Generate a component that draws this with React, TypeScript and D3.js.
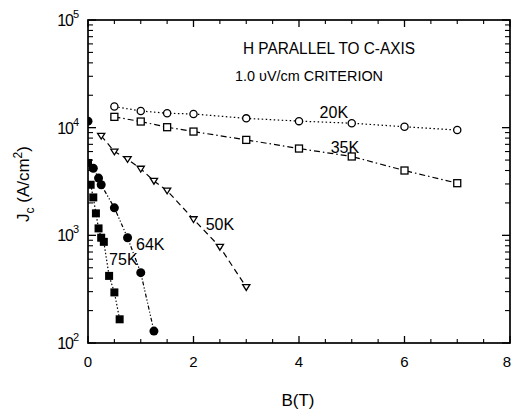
import React from 'react';
import * as d3 from 'd3';

// field values (T) and critical current density (A/cm^2)
const b20 = [0.5, 1, 1.5, 2, 3, 4, 5, 6, 7];
const jc20 = [15700, 14300, 13600, 13400, 12200, 11500, 11000, 10200, 9500];
const b35 = [0.5, 1, 1.5, 2, 3, 4, 5, 6, 7];
const jc35 = [12600, 11400, 10100, 9200, 7700, 6400, 5400, 4000, 3050];
const b50 = [0.25, 0.5, 0.75, 1, 1.25, 1.5, 2, 2.5, 3];
const jc50 = [8400, 6000, 5100, 4150, 3200, 2600, 1410, 780, 330];
const b64 = [0.1, 0.2, 0.25, 0.5, 0.75, 1, 1.25];
const jc64 = [4200, 3400, 2950, 1800, 950, 450, 129];
const b75 = [0.05, 0.1, 0.15, 0.2, 0.25, 0.3, 0.4, 0.5, 0.6];
const jc75 = [2950, 2250, 1600, 1160, 950, 870, 420, 295, 166];
// zero-field points sitting on the left axis (64K, 75K)
const zeroJc = [11500, 4700];

const xTicks = [0, 2, 4, 6, 8];
const yTicks = [2, 3, 4, 5];

const W = 511, H = 411;
const x = d3.scaleLinear().domain([0, 8]).range([88, 510]);
const y = d3.scaleLog().domain([100, 100000]).range([343, 20]);

const font = '"Liberation Sans", Arial, sans-serif';

type Marker = 'oc' | 'os' | 'ot' | 'fc' | 'fs';

const series = [
  { name: '20K', b: b20, jc: jc20, marker: 'oc' as Marker, dash: '1.5,2.5', lab: [4.66, 12300] },
  { name: '35K', b: b35, jc: jc35, marker: 'os' as Marker, dash: '6,3,1.5,3', lab: [4.87, 5820] },
  { name: '50K', b: b50, jc: jc50, marker: 'ot' as Marker, dash: '6,4', lab: [2.5, 1120] },
  { name: '64K', b: b64, jc: jc64, marker: 'fc' as Marker, dash: '4,2,1.2,2,1.2,2', lab: [1.18, 731] },
  { name: '75K', b: b75, jc: jc75, marker: 'fs' as Marker, dash: '1.5,2', lab: [0.67, 531] },
];

function Sym({ kind, cx, cy }: { kind: Marker; cx: number; cy: number }) {
  const st = { stroke: '#000', strokeWidth: 1.3 };
  if (kind === 'oc') return <circle cx={cx} cy={cy} r={3.6} fill="#fff" {...st} />;
  if (kind === 'fc') return <circle cx={cx} cy={cy} r={4.5} fill="#000" />;
  if (kind === 'os') return <rect x={cx - 3.5} y={cy - 3.5} width={7} height={7} fill="#fff" {...st} />;
  if (kind === 'fs') return <rect x={cx - 4} y={cy - 4} width={8} height={8} fill="#000" />;
  const s = 3.6;
  return <path d={`M${cx - s},${cy - s * 0.7}L${cx + s},${cy - s * 0.7}L${cx},${cy + s * 0.9}Z`} fill="#fff" {...st} />;
}

export default function App() {
  const line = d3.line<[number, number]>().x(d => x(d[0])).y(d => y(d[1]));
  const [x0, x1] = x.range();
  const [yb, yt] = y.range();

  const minorX = d3.range(0.5, 8, 0.5).filter(v => v % 2 !== 0);
  const minorY: number[] = [];
  [100, 1000, 10000].forEach(d => { for (let k = 2; k <= 9; k++) minorY.push(d * k); });

  return (
    <svg width={W} height={H} style={{ position: 'absolute', left: 0, top: 0, background: '#fff' }}
      fontFamily={font}>
      <defs>
        <clipPath id="plot"><rect x={x0} y={yt} width={x1 - x0} height={yb - yt} /></clipPath>
      </defs>

      {/* frame */}
      <rect x={x0} y={yt} width={x1 - x0} height={yb - yt} fill="none" stroke="#000" strokeWidth={1.7} />

      {/* x ticks, bottom and top */}
      {xTicks.map((v, i) => (
        <g key={'xt' + v}>
          <line x1={x(v)} x2={x(v)} y1={yb} y2={yb - 7} stroke="#000" strokeWidth={1.3} />
          <line x1={x(v)} x2={x(v)} y1={yt} y2={yt + 7} stroke="#000" strokeWidth={1.3} />
          <text x={i === xTicks.length - 1 ? W : x(v)} y={367} fontSize={15}
            textAnchor={i === xTicks.length - 1 ? 'end' : 'middle'}>{v}</text>
        </g>
      ))}
      {minorX.map(v => (
        <g key={'xm' + v}>
          <line x1={x(v)} x2={x(v)} y1={yb} y2={yb - 4} stroke="#000" strokeWidth={1.1} />
          <line x1={x(v)} x2={x(v)} y1={yt} y2={yt + 4} stroke="#000" strokeWidth={1.1} />
        </g>
      ))}

      {/* y ticks, left and right */}
      {yTicks.map(p => (
        <g key={'yt' + p}>
          <line x1={x0} x2={x0 + 8} y1={y(10 ** p)} y2={y(10 ** p)} stroke="#000" strokeWidth={1.3} />
          <line x1={x1} x2={x1 - 8} y1={y(10 ** p)} y2={y(10 ** p)} stroke="#000" strokeWidth={1.3} />
          <text x={73} y={y(10 ** p) + 6} fontSize={16} textAnchor="end" letterSpacing={-1}>10</text>
          <text x={73} y={y(10 ** p) - 2} fontSize={11}>{p}</text>
        </g>
      ))}
      {minorY.map(v => (
        <g key={'ym' + v}>
          <line x1={x0} x2={x0 + 5} y1={y(v)} y2={y(v)} stroke="#000" strokeWidth={1.1} />
          <line x1={x1} x2={x1 - 5} y1={y(v)} y2={y(v)} stroke="#000" strokeWidth={1.1} />
        </g>
      ))}

      {/* curves and markers */}
      <g clipPath="url(#plot)">
        {series.map(s => (
          <path key={'l' + s.name} d={line(s.b.map((b, i) => [b, s.jc[i]] as [number, number])) || ''}
            fill="none" stroke="#000" strokeWidth={1.2} strokeDasharray={s.dash} />
        ))}
        {series.map(s => s.b.map((b, i) => (
          <Sym key={s.name + i} kind={s.marker} cx={x(b)} cy={y(s.jc[i])} />
        )))}
        <Sym kind="fc" cx={x(0)} cy={y(zeroJc[0])} />
        <Sym kind="fs" cx={x(0)} cy={y(zeroJc[1])} />
      </g>

      {/* curve labels */}
      {series.map(s => (
        <text key={'t' + s.name} x={x(s.lab[0])} y={y(s.lab[1])} fontSize={16} textAnchor="middle">{s.name}</text>
      ))}

      {/* annotation */}
      <text x={243} y={54} fontSize={16} textLength={172} lengthAdjust="spacingAndGlyphs">H PARALLEL TO C-AXIS</text>
      <text x={235} y={81} fontSize={15} textLength={148} lengthAdjust="spacingAndGlyphs">1.0 υV/cm CRITERION</text>

      {/* axis titles */}
      <text x={298} y={406} fontSize={17} textAnchor="middle">B(T)</text>
      <text transform="translate(29,184) rotate(-90)" fontSize={17} textAnchor="middle">
        J<tspan fontSize={12} dy={5}>c</tspan>
        <tspan dy={-5}> (A/cm</tspan>
        <tspan fontSize={12} dy={-7}>2</tspan>
        <tspan dy={7}>)</tspan>
      </text>
    </svg>
  );
}
